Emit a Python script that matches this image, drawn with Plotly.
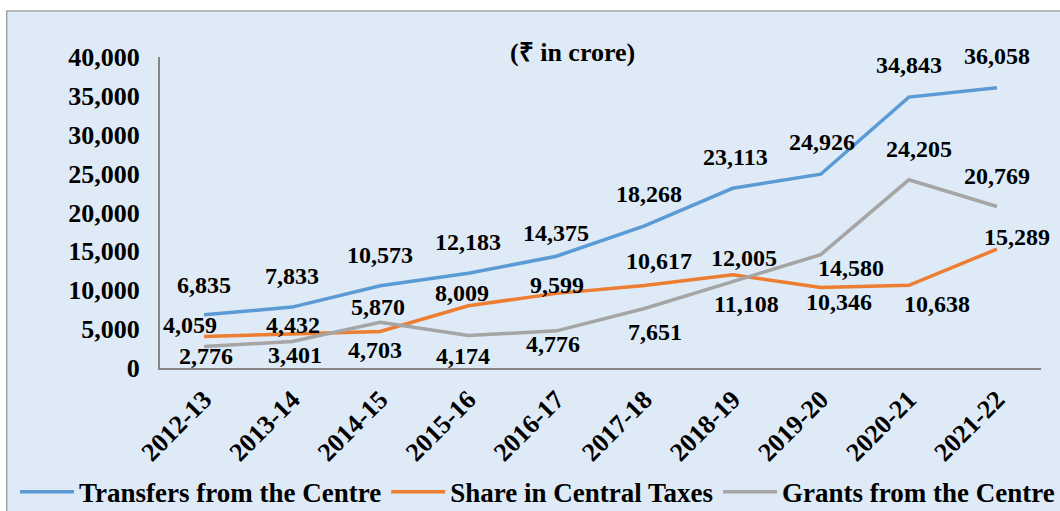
import plotly.graph_objects as go

years = ["2012-13", "2013-14", "2014-15", "2015-16", "2016-17",
         "2017-18", "2018-19", "2019-20", "2020-21", "2021-22"]
transfers = [6835, 7833, 10573, 12183, 14375, 18268, 23113, 24926, 34843, 36058]
share_taxes = [4059, 4432, 4703, 8009, 9599, 10617, 12005, 10346, 10638, 15289]
grants = [2776, 3401, 5870, 4174, 4776, 7651, 11108, 14580, 24205, 20769]

series_names = ["Transfers from the Centre", "Share in Central Taxes", "Grants from the Centre"]
series_colors = ["#5B9BD5", "#ED7D31", "#A5A5A5"]

# data-label pixel offsets (xshift, yshift) relative to each point
label_offsets = [
    [(0, 30), (0, 31), (0, 31), (0, 31), (0, 23), (4, 32), (3, 31), (1, 32), (0, 32), (0, 32)],
    [(-14, 11), (1, 9), (-5, -19), (-6, 13), (1, 8), (14, 24), (11, 17), (18, -14), (28, -19), (20, 12)],
    [(2, -10), (3, -13), (-2, 15), (-5, -20), (-3, -13), (10, -23), (14, -22), (30, -13), (10, 31), (0, 31)],
]

FONT = "Liberation Serif"

fig = go.Figure()
all_series = [transfers, share_taxes, grants]
for name, vals, col in zip(series_names, all_series, series_colors):
    fig.add_trace(go.Scatter(x=years, y=vals, mode="lines", name=f"<b>{name}</b>",
                             line=dict(color=col, width=3.5)))

annotations = []
for vals, offs in zip(all_series, label_offsets):
    for yr, v, (dx, dy) in zip(years, vals, offs):
        annotations.append(dict(x=yr, y=v, xref="x", yref="y", text=f"<b>{v:,}</b>",
                                showarrow=False, xshift=dx, yshift=dy,
                                font=dict(family=FONT, size=24, color="black")))

annotations.append(dict(x=0.4677, y=1.013, xref="paper", yref="paper",
                        xanchor="center", yanchor="middle",
                        text="<b>(₹ in crore)</b>", showarrow=False,
                        font=dict(family=FONT, size=26, color="black")))

fig.update_layout(
    width=1060, height=511,
    margin=dict(l=160, r=19, t=57, b=143, autoexpand=False),
    paper_bgcolor="white",
    plot_bgcolor="rgba(0,0,0,0)",
    font=dict(family=FONT, size=26, color="black"),
    annotations=annotations,
    shapes=[dict(type="rect", xref="paper", yref="paper",
                 x0=-0.174, x1=1.03, y0=-0.5, y1=1.148,
                 fillcolor="#DEEAF6", line=dict(color="#A6A6A6", width=1.5),
                 layer="below")],
    showlegend=True,
    legend=dict(orientation="h", x=-0.1646, xanchor="left", y=-0.399, yanchor="middle",
                font=dict(family=FONT, size=27, color="black"),
                bgcolor="rgba(0,0,0,0)", itemwidth=54, tracegroupgap=0),
    xaxis=dict(type="category", range=[-0.5, 9.5], showgrid=False, zeroline=False,
               showline=True, linecolor="#868686", linewidth=2, ticks="",
               tickangle=-45, ticklabelstandoff=4, automargin=False,
               tickfont=dict(family=FONT, size=26, color="black"),
               tickprefix="<b>", ticksuffix="</b>"),
    yaxis=dict(range=[0, 40000], dtick=5000, showgrid=False, zeroline=False,
               showline=True, linecolor="#868686", linewidth=2, ticks="",
               tickformat=",d", ticklabelstandoff=13, automargin=False,
               tickfont=dict(family=FONT, size=26, color="black"),
               tickprefix="<b>", ticksuffix="</b>"),
)

fig.write_html("out.html",
               config={"displayModeBar": False},
               post_script="document.body.style.margin='0';document.body.style.overflow='hidden';")
